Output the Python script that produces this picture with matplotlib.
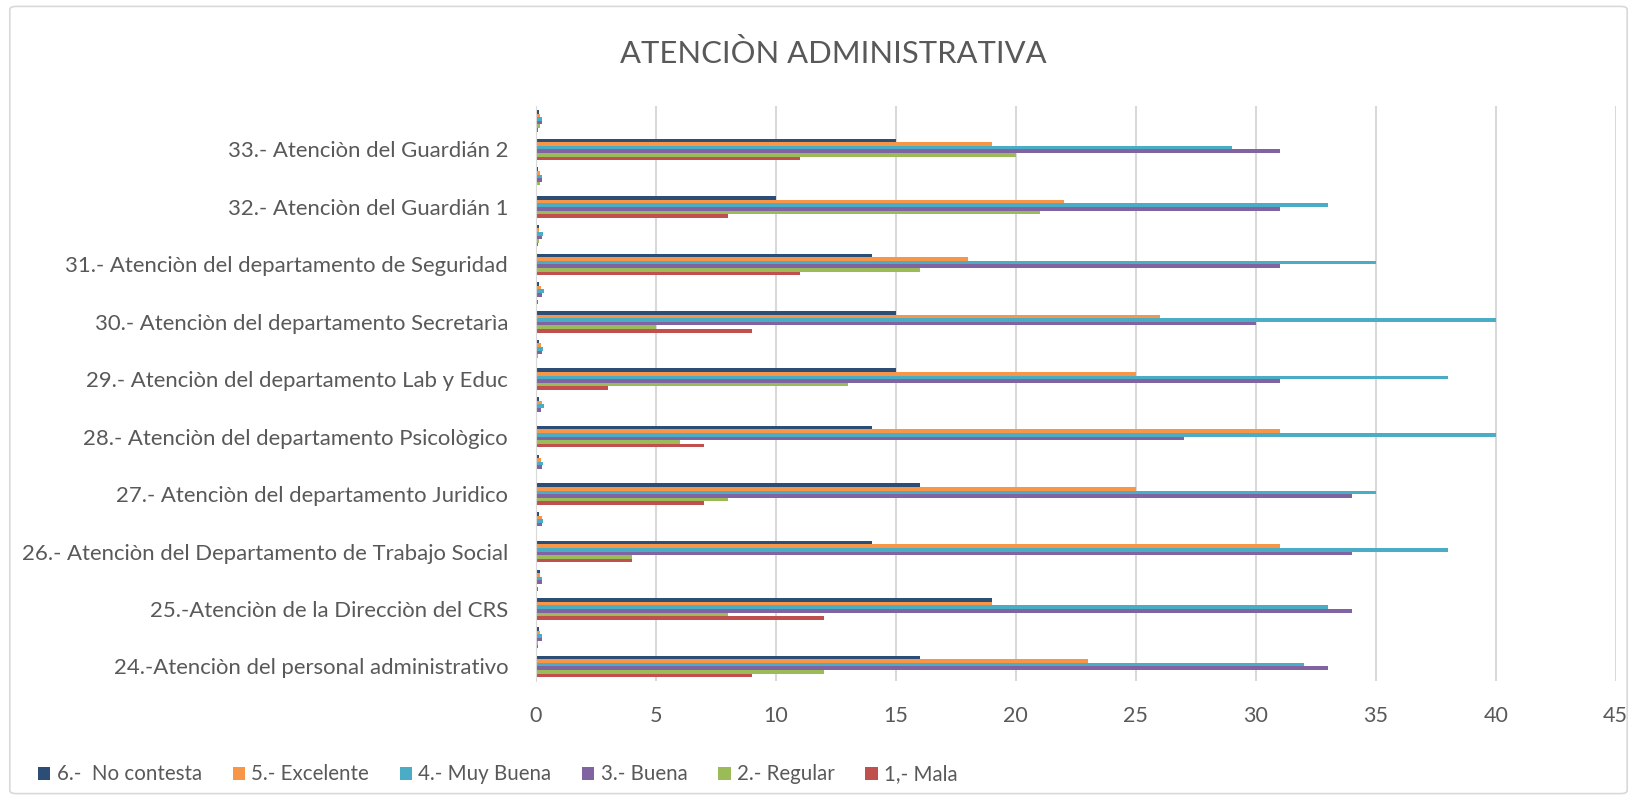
import matplotlib.pyplot as plt
from matplotlib.patches import FancyBboxPatch, Patch
import numpy as np

plt.rcParams['font.family'] = ['Lato', 'DejaVu Sans']

# categories, bottom to top (Excel order)
labels = [
    "24.-Atenciòn del personal administrativo",
    "25.-Atenciòn de la Direcciòn del CRS",
    "26.- Atenciòn del Departamento de Trabajo Social",
    "27.- Atenciòn del departamento Juridico",
    "28.- Atenciòn del departamento Psicològico",
    "29.- Atenciòn del departamento Lab y Educ",
    "30.- Atenciòn del departamento Secretarìa",
    "31.- Atenciòn del departamento de Seguridad",
    "32.- Atenciòn del Guardián 1",
    "33.- Atenciòn del Guardián 2",
]

series_names = ["1,- Mala", "2.- Regular", "3.- Buena", "4.- Muy Buena",
                "5.- Excelente", "6.-  No contesta"]
colors = ["#C0504D", "#9BBB59", "#8064A2", "#4BACC6", "#F79646", "#2C4D75"]

# counts per category (24..33)
mala = [9, 12, 4, 7, 7, 3, 9, 11, 8, 11]
regular = [12, 8, 4, 8, 6, 13, 5, 16, 21, 20]
buena = [33, 34, 34, 34, 27, 31, 30, 31, 31, 31]
muy_buena = [32, 33, 38, 35, 40, 38, 40, 35, 33, 29]
excelente = [23, 19, 31, 25, 31, 25, 26, 18, 22, 19]
no_contesta = [16, 19, 14, 16, 14, 15, 15, 14, 10, 15]

# proportion rows (unlabelled, shown above each count row)
mala_p = [0.072, 0.096, 0.032, 0.056, 0.056, 0.024, 0.072, 0.088, 0.064, 0.088]
regular_p = [0.096, 0.064, 0.032, 0.064, 0.048, 0.104, 0.040, 0.128, 0.168, 0.160]
buena_p = [0.264, 0.272, 0.272, 0.272, 0.216, 0.248, 0.240, 0.248, 0.248, 0.248]
muy_buena_p = [0.256, 0.264, 0.304, 0.280, 0.320, 0.304, 0.320, 0.280, 0.264, 0.232]
excelente_p = [0.184, 0.152, 0.248, 0.200, 0.248, 0.200, 0.208, 0.144, 0.176, 0.152]
no_contesta_p = [0.128, 0.152, 0.112, 0.128, 0.112, 0.120, 0.120, 0.112, 0.080, 0.120]

counts = [mala, regular, buena, muy_buena, excelente, no_contesta]
props = [mala_p, regular_p, buena_p, muy_buena_p, excelente_p, no_contesta_p]

fig = plt.figure(figsize=(16.37, 8), dpi=100)
ax = fig.add_axes([0.3274, 0.149, 0.987 - 0.3274, 0.718])

n = len(labels)
y_count = np.arange(n) * 2
y_prop = y_count + 1
h = 0.125
for k in range(6):
    off = (k - 2.5) * h
    ax.barh(y_count + off, counts[k], height=h, color=colors[k], edgecolor='none')
    ax.barh(y_prop + off, props[k], height=h, color=colors[k], edgecolor='none')

ax.set_xlim(0, 45)
ax.set_ylim(-0.5, 2 * n - 0.5)
ax.set_xticks(range(0, 50, 5))
ax.set_yticks(y_count)
ax.set_yticklabels(labels)
ax.tick_params(axis='both', length=0, colors='#595959')
ax.tick_params(axis='x', pad=18, labelsize=15.5)
ax.tick_params(axis='y', pad=20, labelsize=15.9)
ax.grid(axis='x', color='#D9D9D9', linewidth=1.5)
ax.set_axisbelow(True)
for s in ['top', 'right', 'bottom']:
    ax.spines[s].set_visible(False)
ax.spines['left'].set_color('#D9D9D9')

fig.text(0.509, 0.933, "ATENCIÒN ADMINISTRATIVA", ha='center', va='center',
         fontsize=22.3, color='#595959')

order = [5, 4, 3, 2, 1, 0]
handles = [Patch(facecolor=colors[k], label=series_names[k]) for k in order]
fig.legend(handles=handles, loc='center left', bbox_to_anchor=(0.012, 0.032),
           ncol=6, frameon=False, fontsize=14.8, handlelength=0.6, handleheight=0.6,
           handletextpad=0.3, columnspacing=1.5, labelcolor='#595959')

border = FancyBboxPatch((0.006, 0.008), 0.988, 0.984, boxstyle='round,pad=0,rounding_size=0.004',
                        transform=fig.transFigure, facecolor='none', edgecolor='#D9D9D9',
                        linewidth=1.2)
fig.patches.append(border)

fig.savefig('out.png', dpi=100)
